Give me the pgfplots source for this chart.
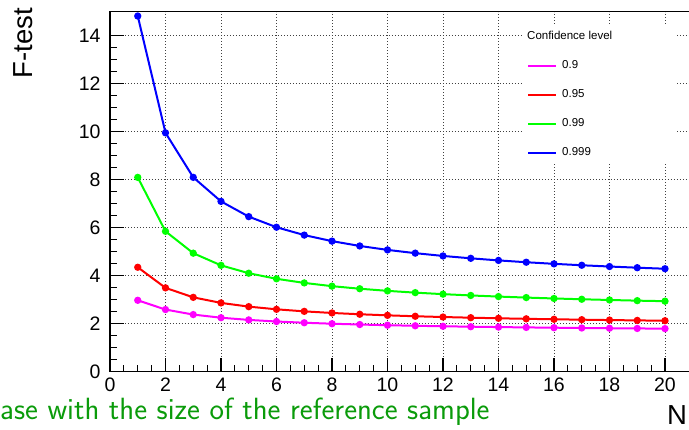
\documentclass[border=0pt]{standalone}
\usepackage{pgfplots}
\usepackage{pgfplotstable}
\pgfplotsset{compat=1.18}
\usepackage{fontspec}
\setmainfont{Liberation Sans}
\definecolor{slidegreen}{RGB}{10,155,10}
\definecolor{rootmagenta}{RGB}{255,0,255}
\definecolor{rootred}{RGB}{255,0,0}
\definecolor{rootgreen}{RGB}{0,255,0}
\definecolor{rootblue}{RGB}{0,0,255}

\pgfplotstableread{
n f90 f95 f99 f999
1 2.975 4.351 8.096 14.82
2 2.589 3.493 5.849 9.953
3 2.380 3.098 4.938 8.098
4 2.249 2.866 4.431 7.096
5 2.158 2.711 4.103 6.461
6 2.091 2.599 3.871 6.019
7 2.040 2.514 3.699 5.692
8 1.999 2.447 3.564 5.440
9 1.965 2.393 3.457 5.239
10 1.937 2.348 3.368 5.075
11 1.913 2.310 3.294 4.939
12 1.892 2.278 3.231 4.823
13 1.875 2.250 3.177 4.724
14 1.859 2.225 3.130 4.637
15 1.845 2.203 3.088 4.561
16 1.833 2.184 3.051 4.494
17 1.821 2.167 3.018 4.435
18 1.811 2.151 2.988 4.382
19 1.802 2.137 2.960 4.333
20 1.794 2.124 2.938 4.290
}\Fdata

\begin{document}
\begin{tikzpicture}
\useasboundingbox (0,0) rectangle (689pt,430pt);
\clip (0,0) rectangle (689pt,430pt);
\begin{axis}[
  at={(110pt,58.3pt)}, anchor=south west,
  scale only axis, width=582.75pt, height=360pt,
  xmin=0, xmax=21, ymin=0, ymax=15,
  xtick={0,2,...,20}, ytick={0,2,...,14},
  minor tick num=3,
  tick align=inside,
  xtick pos=left, ytick pos=left,
  major tick length=14pt, minor tick length=7pt,
  tick style={line width=1.1pt, black},
  axis line style={line width=1.6pt},
  grid=major,
  major grid style={line width=0.8pt, dash pattern=on 0.8pt off 2.2pt, black!75},
  /pgf/number format/assume math mode=true,
  tick label style={font=\fontsize{19.5}{20}\selectfont},
  xticklabel style={yshift=-3pt},
  yticklabel style={xshift=-6pt},
  xlabel={N},
  xlabel style={at={(axis description cs:0.9558,-0.148)}, anchor=base west, inner sep=0pt, font=\fontsize{27.5}{28}\selectfont},
  ylabel={F-test},
  ylabel style={at={(axis description cs:-0.1338,1.0103)}, anchor=base east, inner sep=0pt, rotate=0, font=\fontsize{27.5}{28}\selectfont},
  legend style={at={(axis description cs:0.707,0.963)}, anchor=north west,
    draw=none, fill=white, inner xsep=5pt, inner ysep=6pt,
    font=\fontsize{11.5}{12}\selectfont, row sep=18pt,
    nodes={inner sep=0pt, text height=8.5pt, text depth=2.5pt},
    /tikz/every odd column/.append style={column sep=5pt}},
  legend cell align=left,
  legend image code/.code={\draw[#1, mark=none] (0pt,0pt) -- (28pt,0pt);},
]
\addlegendimage{empty legend}
\addlegendentry{\makebox[110pt][l]{\hspace*{-35pt}Confidence level}}
\addplot[rootmagenta, line width=2pt, mark=*, mark size=2.6pt] table[x=n, y=f90] {\Fdata};
\addlegendentry{0.9}
\addplot[rootred, line width=2pt, mark=*, mark size=2.6pt] table[x=n, y=f95] {\Fdata};
\addlegendentry{0.95}
\addplot[rootgreen, line width=2pt, mark=*, mark size=2.6pt] table[x=n, y=f99] {\Fdata};
\addlegendentry{0.99}
\addplot[rootblue, line width=2pt, mark=*, mark size=2.6pt] table[x=n, y=f999] {\Fdata};
\addlegendentry{0.999}
\end{axis}
\node[anchor=base west, inner sep=0pt, text=slidegreen, font=\sffamily\fontsize{30.7}{32}\selectfont] at (0pt,10pt) {ase with the size of the reference sample};
\end{tikzpicture}
\end{document}
